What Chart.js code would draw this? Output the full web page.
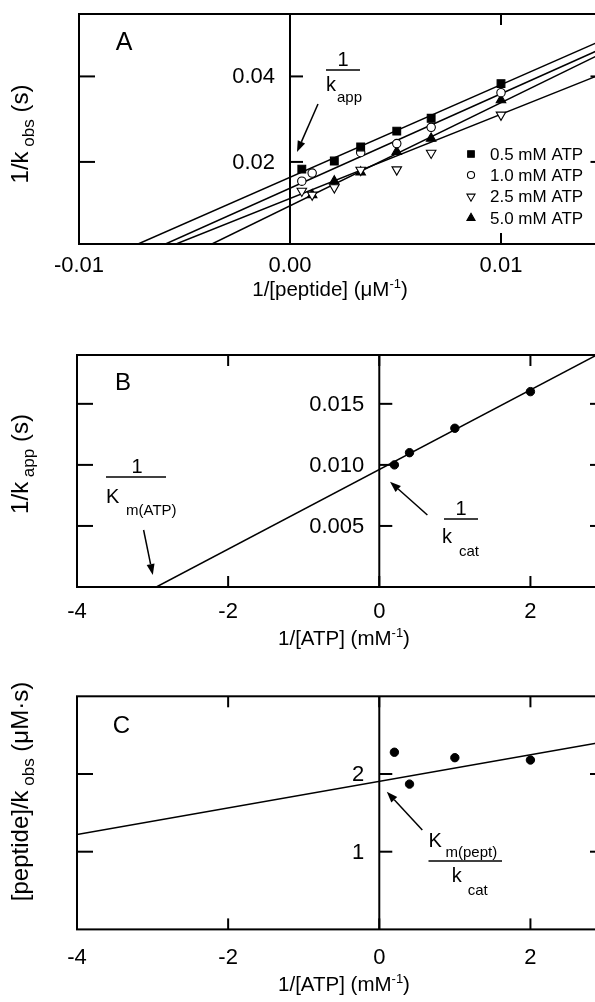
<!DOCTYPE html>
<html><head><meta charset="utf-8">
<script src="https://cdn.jsdelivr.net/npm/chart.js@4.4.1/dist/chart.umd.min.js"></script>
<style>
html,body{margin:0;padding:0;background:#fff;width:595px;height:1002px;overflow:hidden;position:relative;}
canvas.p{position:absolute;left:0;}
</style></head><body>
<canvas id="cA" class="p" style="top:0px" width="620" height="320"></canvas>
<canvas id="cB" class="p" style="top:320px" width="620" height="345"></canvas>
<canvas id="cC" class="p" style="top:665px" width="620" height="337"></canvas>
<script>
// ---------- Panel A data: 1/k_obs vs 1/[peptide] ----------
const peptInv_05 = [0.00056, 0.0021, 0.00335, 0.00506, 0.00669, 0.0100];
const kobsInv_05 = [0.0183, 0.0202, 0.0235, 0.0272, 0.0302, 0.0383];
const peptInv_10 = [0.00056, 0.00105, 0.00335, 0.00506, 0.00669, 0.0100];
const kobsInv_10 = [0.0155, 0.0174, 0.0222, 0.0243, 0.0281, 0.0362];
const peptInv_25 = [0.00056, 0.00105, 0.0021, 0.00335, 0.00506, 0.00669, 0.0100];
const kobsInv_25 = [0.0132, 0.0123, 0.0140, 0.0181, 0.0182, 0.0221, 0.0310];
const peptInv_50 = [0.00105, 0.0021, 0.00335, 0.00506, 0.00669, 0.0100];
const kobsInv_50 = [0.0123, 0.0155, 0.0176, 0.0224, 0.0255, 0.0345];
// fitted lines (end points)
const fitA_x05 = [-0.0072, 0.015], fitA_y05 = [0.0008, 0.0489];
const fitA_x10 = [-0.0059, 0.015], fitA_y10 = [0.0008, 0.0470];
const fitA_x25 = [-0.0054, 0.015], fitA_y25 = [0.0008, 0.0410];
const fitA_x50 = [-0.0037, 0.015], fitA_y50 = [0.0008, 0.0459];
const legendLabelsA = ['0.5 mM ATP', '1.0 mM ATP', '2.5 mM ATP', '5.0 mM ATP'];
const xTicksA = [-0.01, 0, 0.01], xTickLabelsA = ['-0.01', '0.00', '0.01'];
const yTicksA = [0.02, 0.04], yTickLabelsA = ['0.02', '0.04'];

// ---------- Panel B data: 1/k_app vs 1/[ATP] ----------
const atpInv = [0.2, 0.4, 1.0, 2.0];
const kappInv = [0.0100, 0.0110, 0.0130, 0.0160];
const fitB_x = [-2.95, 3.0], fitB_y = [0.0, 0.0194];
const xTicksBC = [-4, -2, 0, 2], xTickLabelsBC = ['-4', '-2', '0', '2'];
const yTicksB = [0.005, 0.010, 0.015], yTickLabelsB = ['0.005', '0.010', '0.015'];

// ---------- Panel C data: [peptide]/k_obs slope vs 1/[ATP] ----------
const slopeC = [2.28, 1.87, 2.21, 2.18];
const fitC_x = [-4, 3], fitC_y = [1.22, 2.42];
const yTicksC = [1, 2], yTickLabelsC = ['1', '2'];

// ---------- helpers ----------
const FAM = "'Liberation Sans', Arial, Helvetica, sans-serif";
const fnt = s => s + 'px ' + FAM;
const pts = (xs, ys) => xs.map((x, i) => ({x: x, y: ys[i]}));
const TICKF = 22;

function runs(ctx, list, x, y, align) {
  let w = 0;
  list.forEach(r => { ctx.font = fnt(r[1]); w += ctx.measureText(r[0]).width; });
  let cx = align === 'center' ? x - w / 2 : x;
  ctx.textAlign = 'left'; ctx.textBaseline = 'alphabetic';
  list.forEach(r => { ctx.font = fnt(r[1]); ctx.fillText(r[0], cx, y + (r[2] || 0)); cx += ctx.measureText(r[0]).width; });
}
function seg(ctx, x1, y1, x2, y2, lw) {
  ctx.lineWidth = lw || 2; ctx.beginPath(); ctx.moveTo(x1, y1); ctx.lineTo(x2, y2); ctx.stroke();
}
function arrow(ctx, x1, y1, x2, y2) {
  const ang = Math.atan2(y2 - y1, x2 - x1), L = 11, W = 4;
  const bx = x2 - L * Math.cos(ang), by = y2 - L * Math.sin(ang);
  seg(ctx, x1, y1, bx, by, 1.5);
  ctx.beginPath(); ctx.moveTo(x2, y2);
  ctx.lineTo(bx + W * Math.sin(ang), by - W * Math.cos(ang));
  ctx.lineTo(bx - W * Math.sin(ang), by + W * Math.cos(ang));
  ctx.closePath(); ctx.fill();
}
function ytitle(ctx, list, x, y) {
  ctx.save(); ctx.translate(x, y); ctx.rotate(-Math.PI / 2); runs(ctx, list, 0, 0, 'center'); ctx.restore();
}

function makeDeco(d) {
  return {
    id: 'deco',
    afterDatasetsDraw(chart) {
      const ctx = chart.ctx, a = chart.chartArea, xs = chart.scales.x, ys = chart.scales.y;
      ctx.save();
      ctx.strokeStyle = '#000'; ctx.fillStyle = '#000'; ctx.lineCap = 'butt';
      ctx.lineWidth = 2;
      ctx.strokeRect(a.left, a.top, a.right - a.left, a.bottom - a.top);
      const x0 = xs.getPixelForValue(0);
      seg(ctx, x0, a.top, x0, a.bottom, 2);
      d.yTicks.forEach((v, i) => {
        const py = ys.getPixelForValue(v);
        seg(ctx, a.left, py, a.left + 16, py);
        seg(ctx, a.right - 16, py, a.right, py);
        seg(ctx, x0, py, x0 + 13, py);
        ctx.font = fnt(TICKF); ctx.textAlign = 'right'; ctx.textBaseline = 'middle';
        ctx.fillText(d.yLabels[i], x0 - 15, py + 1);
      });
      d.xTicks.forEach(v => {
        const px = xs.getPixelForValue(v);
        seg(ctx, px, a.top, px, a.top + 11);
        seg(ctx, px, a.bottom - 11, px, a.bottom);
      });
      d.extra(ctx, chart);
      ctx.restore();
    }
  };
}

function makeChart(id, c) {
  return new Chart(document.getElementById(id), {
    type: 'scatter',
    data: {datasets: c.datasets},
    options: {
      responsive: false, animation: false, devicePixelRatio: 1,
      layout: {padding: {left: c.left, top: c.top, right: c.right, bottom: 0}},
      plugins: {legend: {display: false}, tooltip: {enabled: false}},
      scales: {
        x: {
          type: 'linear', position: 'bottom', min: c.xmin, max: c.xmax,
          grid: {display: false, drawTicks: false}, border: {display: false},
          afterBuildTicks: s => { s.ticks = c.xTicks.map(v => ({value: v})); },
          afterFit: s => { s.height = c.axisH; },
          ticks: {autoSkip: false, maxRotation: 0, padding: c.tickPad, color: '#000',
                  font: {family: FAM, size: TICKF}, callback: (v, i) => c.xLabels[i]}
        },
        y: {type: 'linear', display: false, min: c.ymin, max: c.ymax}
      }
    },
    plugins: [makeDeco(c.deco)]
  });
}

const lineDs = (xs, ys) => ({data: pts(xs, ys), showLine: true, pointRadius: 0, borderColor: '#000', borderWidth: 1.5, order: 2});
const styA = [
  {pointStyle: 'rect', pointRadius: 5.5, pointRotation: 0, fill: '#000'},
  {pointStyle: 'circle', pointRadius: 4.2, pointRotation: 0, fill: '#fff'},
  {pointStyle: 'triangle', pointRadius: 5.5, pointRotation: 180, fill: '#fff'},
  {pointStyle: 'triangle', pointRadius: 5.5, pointRotation: 0, fill: '#000'}
];
const ptDs = (xs, ys, s) => ({data: pts(xs, ys), pointStyle: s.pointStyle, pointRadius: s.pointRadius,
  pointRotation: s.pointRotation, backgroundColor: s.fill, borderColor: '#000', borderWidth: 1.1, order: 0});

// ---------- Panel A ----------
makeChart('cA', {
  left: 79, top: 14, right: 13.5, axisH: 76, tickPad: 9,
  xmin: -0.01, xmax: 0.015, ymin: 0.0008, ymax: 0.0546,
  xTicks: xTicksA, xLabels: xTickLabelsA,
  datasets: [
    lineDs(fitA_x05, fitA_y05), lineDs(fitA_x10, fitA_y10), lineDs(fitA_x25, fitA_y25), lineDs(fitA_x50, fitA_y50),
    ptDs(peptInv_05, kobsInv_05, styA[0]), ptDs(peptInv_10, kobsInv_10, styA[1]),
    ptDs(peptInv_25, kobsInv_25, styA[2]), ptDs(peptInv_50, kobsInv_50, styA[3])
  ],
  deco: {yTicks: yTicksA, yLabels: yTickLabelsA, xTicks: xTicksA, extra(ctx) {
    ctx.font = fnt(25); ctx.textAlign = 'center'; ctx.textBaseline = 'alphabetic';
    ctx.fillText('A', 124, 50);
    runs(ctx, [['1/[peptide] (\u03bcM', 20.5], ['-1', 13, -8], [')', 20.5]], 330, 296, 'center');
    ytitle(ctx, [['1/k', 24], [' obs', 17, 6], [' (s)', 24]], 28, 134);
    // 1/k_app annotation
    ctx.font = fnt(20); ctx.textAlign = 'center'; ctx.fillText('1', 343, 66);
    seg(ctx, 326, 70, 360, 70, 1.5);
    runs(ctx, [['k', 20]], 326, 91);
    runs(ctx, [['app', 15]], 337, 102);
    arrow(ctx, 318, 104, 297, 152);
    // legend
    const rowY = [154, 175, 196.5, 218];
    legendLabelsA.forEach((t, i) => {
      const s = styA[i];
      ctx.fillStyle = s.fill; ctx.strokeStyle = '#000'; ctx.lineWidth = 1.1;
      Chart.helpers.drawPoint(ctx, {pointStyle: s.pointStyle, radius: s.pointRadius * 0.85, rotation: s.pointRotation, borderWidth: 1.1}, 471, rowY[i]);
      ctx.fillStyle = '#000';
      ctx.font = fnt(17); ctx.textAlign = 'left'; ctx.textBaseline = 'middle';
      ctx.fillText(t, 490, rowY[i] + 1);
    });
  }}
});

// ---------- Panel B ----------
makeChart('cB', {
  left: 77, top: 35, right: 14, axisH: 78, tickPad: 12,
  xmin: -4, xmax: 3, ymin: 0, ymax: 0.019,
  xTicks: xTicksBC, xLabels: xTickLabelsBC,
  datasets: [
    lineDs(fitB_x, fitB_y),
    {data: pts(atpInv, kappInv), pointStyle: 'circle', pointRadius: 4.2, backgroundColor: '#000', borderColor: '#000', borderWidth: 1, order: 0}
  ],
  deco: {yTicks: yTicksB, yLabels: yTickLabelsB, xTicks: xTicksBC, extra(ctx) {
    ctx.font = fnt(24); ctx.textAlign = 'center'; ctx.textBaseline = 'alphabetic';
    ctx.fillText('B', 123, 70);
    runs(ctx, [['1/[ATP] (mM', 20.5], ['-1', 13, -8], [')', 20.5]], 344, 325, 'center');
    ytitle(ctx, [['1/k', 24], [' app', 17, 6], [' (s)', 24]], 28, 144);
    // 1/K_m(ATP)
    ctx.font = fnt(20); ctx.textAlign = 'center'; ctx.fillText('1', 137, 153);
    seg(ctx, 106, 157, 166, 157, 1.5);
    runs(ctx, [['K', 20]], 106, 183);
    runs(ctx, [['m(ATP)', 15]], 126, 195);
    arrow(ctx, 143.6, 210, 152.8, 255);
    // 1/k_cat
    ctx.font = fnt(20); ctx.textAlign = 'center'; ctx.fillText('1', 461, 195);
    seg(ctx, 444, 199, 478, 199, 1.5);
    runs(ctx, [['k', 20]], 442, 223);
    runs(ctx, [['cat', 15]], 459, 236);
    arrow(ctx, 427.4, 195, 390, 161.7);
  }}
});

// ---------- Panel C ----------
makeChart('cC', {
  left: 77, top: 31.3, right: 14, axisH: 72.6, tickPad: 15,
  xmin: -4, xmax: 3, ymin: 0, ymax: 3,
  xTicks: xTicksBC, xLabels: xTickLabelsBC,
  datasets: [
    lineDs(fitC_x, fitC_y),
    {data: pts(atpInv, slopeC), pointStyle: 'circle', pointRadius: 4.2, backgroundColor: '#000', borderColor: '#000', borderWidth: 1, order: 0}
  ],
  deco: {yTicks: yTicksC, yLabels: yTickLabelsC, xTicks: xTicksBC, extra(ctx) {
    ctx.font = fnt(24); ctx.textAlign = 'center'; ctx.textBaseline = 'alphabetic';
    ctx.fillText('C', 121.5, 67.5);
    runs(ctx, [['1/[ATP] (mM', 20.5], ['-1', 13, -8], [')', 20.5]], 344, 326, 'center');
    ytitle(ctx, [['[peptide]/k', 24], [' obs', 17, 6], [' (\u03bcM\u00b7s)', 24]], 28, 126.5);
    // K_m(pept)/k_cat
    runs(ctx, [['K', 20]], 428.5, 182);
    runs(ctx, [['m(pept)', 15]], 445.5, 192);
    seg(ctx, 428.5, 196, 502, 196, 1.5);
    runs(ctx, [['k', 20]], 451.7, 217);
    runs(ctx, [['cat', 15]], 467.7, 230);
    arrow(ctx, 422.3, 165, 386.8, 126.7);
  }}
});
</script>
</body></html>
